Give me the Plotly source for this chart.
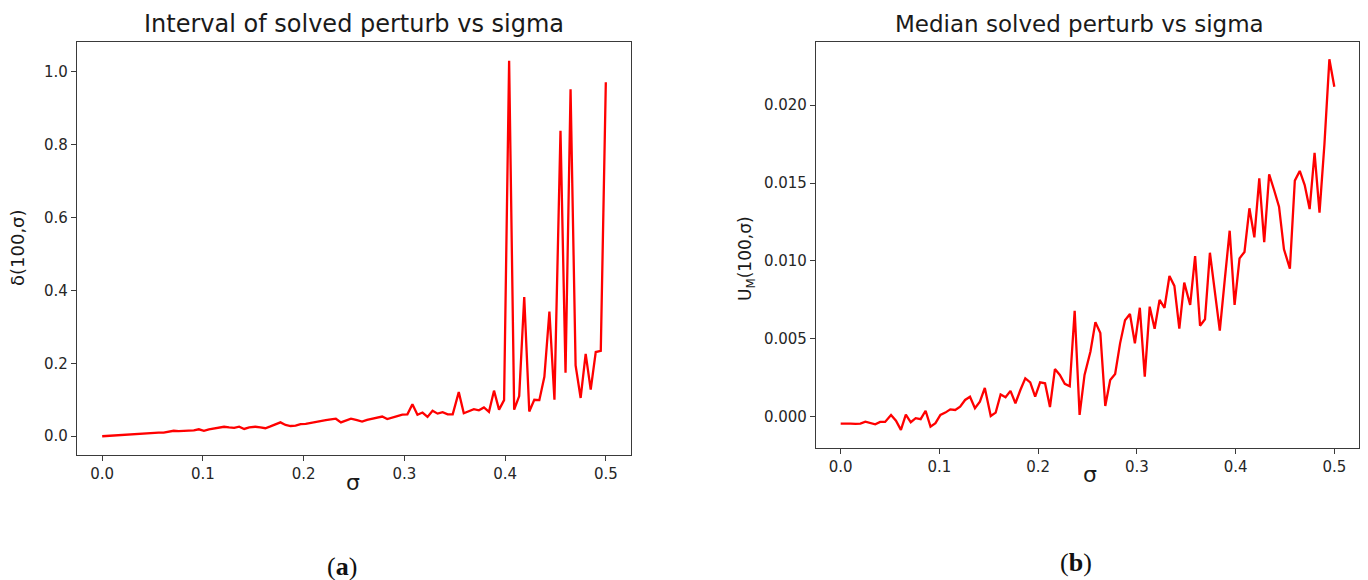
import plotly.graph_objects as go

# sigma grid (100 samples over [0, 0.5])
sigma = [
    0.000, 0.005, 0.010, 0.015, 0.020, 0.025, 0.030, 0.035, 0.040, 0.045,
    0.051, 0.056, 0.061, 0.066, 0.071, 0.076, 0.081, 0.086, 0.091, 0.096,
    0.101, 0.106, 0.111, 0.116, 0.121, 0.126, 0.131, 0.136, 0.141, 0.146,
    0.152, 0.157, 0.162, 0.167, 0.172, 0.177, 0.182, 0.187, 0.192, 0.197,
    0.202, 0.207, 0.212, 0.217, 0.222, 0.227, 0.232, 0.237, 0.242, 0.247,
    0.253, 0.258, 0.263, 0.268, 0.273, 0.278, 0.283, 0.288, 0.293, 0.298,
    0.303, 0.308, 0.313, 0.318, 0.323, 0.328, 0.333, 0.338, 0.343, 0.348,
    0.354, 0.359, 0.364, 0.369, 0.374, 0.379, 0.384, 0.389, 0.394, 0.399,
    0.404, 0.409, 0.414, 0.419, 0.424, 0.429, 0.434, 0.439, 0.444, 0.449,
    0.455, 0.460, 0.465, 0.470, 0.475, 0.480, 0.485, 0.490, 0.495, 0.500,
]

# (a) interval of solved perturbation, delta(100, sigma)
interval_delta = [
    0.000, 0.001, 0.002, 0.003, 0.004, 0.004, 0.005, 0.006, 0.008, 0.008,
    0.009, 0.010, 0.010, 0.012, 0.015, 0.014, 0.015, 0.014, 0.016, 0.019,
    0.015, 0.019, 0.021, 0.022, 0.026, 0.024, 0.023, 0.026, 0.020, 0.024,
    0.026, 0.024, 0.022, 0.027, 0.033, 0.038, 0.031, 0.028, 0.029, 0.033,
    0.034, 0.037, 0.039, 0.041, 0.044, 0.046, 0.048, 0.038, 0.043, 0.048,
    0.044, 0.040, 0.045, 0.048, 0.050, 0.054, 0.047, 0.050, 0.055, 0.059,
    0.060, 0.088, 0.059, 0.065, 0.053, 0.070, 0.062, 0.066, 0.060, 0.060,
    0.121, 0.063, 0.068, 0.074, 0.071, 0.079, 0.067, 0.125, 0.073, 0.099,
    1.030, 0.073, 0.110, 0.382, 0.068, 0.100, 0.099, 0.163, 0.342, 0.100,
    0.838, 0.174, 0.952, 0.194, 0.105, 0.226, 0.128, 0.231, 0.234, 0.971,
]

# (b) median solved perturbation, U_M(100, sigma)
median_u = [
    -0.00043, -0.00045, -0.00043, -0.00044, -0.00043, -0.00030, -0.00039, -0.00047, -0.00032, -0.00032,
    0.00013, -0.00024, -0.00083, 0.00015, -0.00034, -0.00008, -0.00014, 0.00040, -0.00062, -0.00040,
    0.00013, 0.00028, 0.00049, 0.00045, 0.00066, 0.00109, 0.00130, 0.00056, 0.00098, 0.00186,
    0.00006, 0.00028, 0.00144, 0.00126, 0.00167, 0.00088, 0.00173, 0.00248, 0.00222, 0.00130,
    0.00222, 0.00216, 0.00064, 0.00307, 0.00269, 0.00212, 0.00197, 0.00681, 0.00013, 0.00270,
    0.00420, 0.00608, 0.00538, 0.00070, 0.00237, 0.00276, 0.00472, 0.00620, 0.00660, 0.00472,
    0.00700, 0.00258, 0.00707, 0.00566, 0.00750, 0.00700, 0.00904, 0.00840, 0.00566, 0.00861,
    0.00718, 0.01032, 0.00585, 0.00626, 0.01053, 0.00803, 0.00553, 0.00878, 0.01194, 0.00718,
    0.01017, 0.01058, 0.01338, 0.01152, 0.01530, 0.01120, 0.01556, 0.01455, 0.01348, 0.01075,
    0.00951, 0.01515, 0.01577, 0.01487, 0.01333, 0.01694, 0.01310, 0.01750, 0.02293, 0.02117,
]

W, H = 1368, 580
FONT = "DejaVu Sans"
LINE_RED = "#ff0000"
AXIS_GREY = "#3a3a3a"


def px(x, y):
    """Pixel position -> paper coordinates."""
    return x / W, 1 - y / H


fig = go.Figure()
fig.add_trace(go.Scatter(x=sigma, y=interval_delta, mode="lines",
                         line=dict(color=LINE_RED, width=2.3),
                         xaxis="x", yaxis="y", showlegend=False))
fig.add_trace(go.Scatter(x=sigma, y=median_u, mode="lines",
                         line=dict(color=LINE_RED, width=2.3),
                         xaxis="x2", yaxis="y2", showlegend=False))

axis_common = dict(
    showline=True, mirror=True, linecolor=AXIS_GREY, linewidth=1.2,
    ticks="outside", ticklen=5, tickwidth=1.2, tickcolor=AXIS_GREY,
    showgrid=False, zeroline=False,
    tickfont=dict(family=FONT, size=15, color="#262626"),
)

fig.update_layout(
    width=W, height=H, autosize=False,
    margin=dict(l=0, r=0, t=0, b=0),
    paper_bgcolor="white", plot_bgcolor="white",
    xaxis=dict(domain=[77 / W, 631 / W], range=[-0.025, 0.525],
               tickvals=[0, 0.1, 0.2, 0.3, 0.4, 0.5], tickformat=".1f",
               anchor="y", **axis_common),
    yaxis=dict(domain=[1 - 455 / H, 1 - 42 / H], range=[-0.0515, 1.0815],
               tickvals=[0, 0.2, 0.4, 0.6, 0.8, 1.0], tickformat=".1f",
               anchor="x", **axis_common),
    xaxis2=dict(domain=[816 / W, 1359 / W], range=[-0.025, 0.525],
                tickvals=[0, 0.1, 0.2, 0.3, 0.4, 0.5], tickformat=".1f",
                anchor="y2", **axis_common),
    yaxis2=dict(domain=[1 - 448 / H, 1 - 42 / H], range=[-0.00199, 0.02404],
                tickvals=[0, 0.005, 0.01, 0.015, 0.02], tickformat=".3f",
                anchor="x2", **axis_common),
)


def label(text, x, y, size, angle=0, family=FONT, color="#1a1a1a"):
    ax, ay = px(x, y)
    fig.add_annotation(text=text, x=ax, y=ay, xref="paper", yref="paper",
                       xanchor="center", yanchor="middle", showarrow=False,
                       textangle=angle, font=dict(family=family, size=size, color=color))


# panel titles
label("Interval of solved perturb vs sigma", 354, 24, 24)
label("Median solved perturb vs sigma", 1079, 24, 23)

# axis labels
label("σ", 353, 482, 22)
label("σ", 1090, 474, 22)
label("δ(100,σ)", 18, 248, 18, angle=-90)
label("U<sub>M</sub>(100,σ)", 746, 258, 17, angle=-90)

# panel tags
label("(<b>a</b>)", 342, 566, 26, family="Liberation Serif", color="#111111")
label("(<b>b</b>)", 1076, 562, 26, family="Liberation Serif", color="#111111")

fig.write_html("out.html")
